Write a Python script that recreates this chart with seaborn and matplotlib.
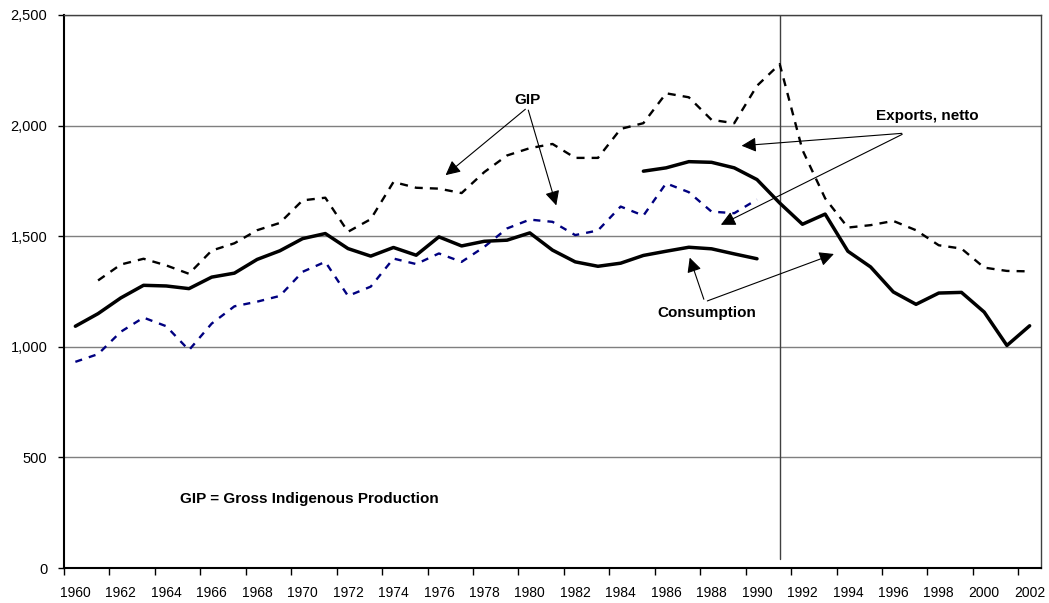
import matplotlib
matplotlib.use("Agg")
import matplotlib.pyplot as plt
import matplotlib.ticker as mticker
import seaborn as sns
import pandas as pd
import numpy as np

# --- data ---
years_cons = list(range(1960, 1991))
consumption = [1093, 1150, 1221, 1278, 1275, 1263, 1315, 1333, 1395, 1434,
               1489, 1512, 1444, 1410, 1449, 1414, 1497, 1456, 1477, 1482,
               1515, 1437, 1384, 1364, 1378, 1413, 1432, 1450, 1443, 1420,
               1398]

years_gip = list(range(1961, 2003))
gip = [1300, 1372, 1398, 1368, 1330, 1435, 1468, 1527, 1560, 1662,
       1674, 1520, 1577, 1745, 1719, 1715, 1695, 1790, 1865, 1898,
       1917, 1854, 1854, 1985, 2011, 2146, 2128, 2026, 2011, 2180,
       2278, 1890, 1671, 1539, 1550, 1569, 1527, 1459, 1444, 1358,
       1343, 1341]

years_exp = list(range(1960, 1991))
exports_gip = [932, 967, 1068, 1132, 1093, 985, 1105, 1183, 1204, 1230,
               1339, 1384, 1230, 1272, 1399, 1374, 1422, 1384, 1452, 1535,
               1575, 1565, 1505, 1526, 1634, 1593, 1739, 1699, 1611, 1604,
               1666]

years_late = list(range(1985, 2003))
exports_late = [1794, 1809, 1837, 1834, 1809, 1756, 1650, 1554, 1600, 1432,
                1361, 1248, 1192, 1243, 1246, 1157, 1006, 1095]

marker_year = 1991
marker_range = [40, 2500]

y_ticks = [0, 500, 1000, 1500, 2000, 2500]
x_label_years = list(range(1960, 2003, 2))

sns.set_style("white")
plt.rcParams["font.family"] = ["Liberation Sans", "DejaVu Sans"]
plt.rcParams["text.color"] = "black"
plt.rcParams["xtick.color"] = "black"
plt.rcParams["ytick.color"] = "black"

fig = plt.figure(figsize=(10.49, 6.03), dpi=100)
ax = fig.add_axes([64 / 1049, 1 - 568 / 603, (1041 - 64) / 1049, (568 - 15) / 603])

# gridlines
for v in y_ticks[1:]:
    ax.axhline(v, color="#7f7f7f", lw=1.0, zorder=1)

df_cons = pd.DataFrame({"year": years_cons, "value": consumption})
df_gip = pd.DataFrame({"year": years_gip, "value": gip})
df_exp = pd.DataFrame({"year": years_exp, "value": exports_gip})
df_late = pd.DataFrame({"year": years_late, "value": exports_late})

sns.lineplot(data=df_gip, x="year", y="value", ax=ax, color="black", lw=1.7,
             linestyle=(0, (3.4, 3.0)), zorder=3)
sns.lineplot(data=df_exp, x="year", y="value", ax=ax, color="#000080", lw=1.7,
             linestyle=(0, (3.0, 3.0)), zorder=3)
sns.lineplot(data=df_cons, x="year", y="value", ax=ax, color="black", lw=2.5,
             zorder=4)
sns.lineplot(data=df_late, x="year", y="value", ax=ax, color="black", lw=2.5,
             zorder=4)

ax.plot([marker_year, marker_year], marker_range, color="#404040", lw=1.0, zorder=2)

ax.set_xlim(1959.5, 2002.5)
ax.set_ylim(0, 2500)
ax.set_xlabel("")
ax.set_ylabel("")

ax.set_yticks(y_ticks)
ax.yaxis.set_major_formatter(mticker.FuncFormatter(lambda v, p: f"{int(v):,}"))
ax.tick_params(axis="y", length=4, width=1, direction="out", labelsize=10.5, pad=8)
ax.yaxis.set_ticks_position("left")

ax.set_xticks(x_label_years)
ax.set_xticklabels([str(y) for y in x_label_years])
ax.set_xticks(np.arange(1959.5, 2003, 2), minor=True)
ax.tick_params(axis="x", which="major", length=0, labelsize=10, pad=13)
ax.tick_params(axis="x", which="minor", length=5, width=1, direction="out")
ax.xaxis.set_ticks_position("bottom")

for side in ["left", "bottom"]:
    ax.spines[side].set_color("black")
    ax.spines[side].set_linewidth(1.5)
for side in ["top", "right"]:
    ax.spines[side].set_color("#404040")
    ax.spines[side].set_linewidth(1.0)

# annotations
arrow = dict(arrowstyle="-|>", color="black", lw=0.8, mutation_scale=22)
ax.text(1979.9, 2115, "GIP", ha="center", va="center", fontsize=11, fontweight="bold")
ax.annotate("", xy=(1976.2, 1768), xytext=(1979.9, 2082), arrowprops=arrow)
ax.annotate("", xy=(1981.2, 1627), xytext=(1979.9, 2082), arrowprops=arrow)

ax.text(1997.5, 2043, "Exports, netto", ha="center", va="center", fontsize=11, fontweight="bold")
ax.annotate("", xy=(1989.2, 1908), xytext=(1996.5, 1966), arrowprops=arrow)
ax.annotate("", xy=(1988.3, 1546), xytext=(1996.5, 1966), arrowprops=arrow)

ax.text(1987.8, 1153, "Consumption", ha="center", va="center", fontsize=11, fontweight="bold")
ax.annotate("", xy=(1987.0, 1415), xytext=(1987.7, 1203), arrowprops=arrow)
ax.annotate("", xy=(1993.5, 1424), xytext=(1987.7, 1203), arrowprops=arrow)

ax.text(1964.6, 312, "GIP = Gross Indigenous Production", ha="left", va="center",
        fontsize=11, fontweight="bold")

fig.savefig("out.png", dpi=100)
